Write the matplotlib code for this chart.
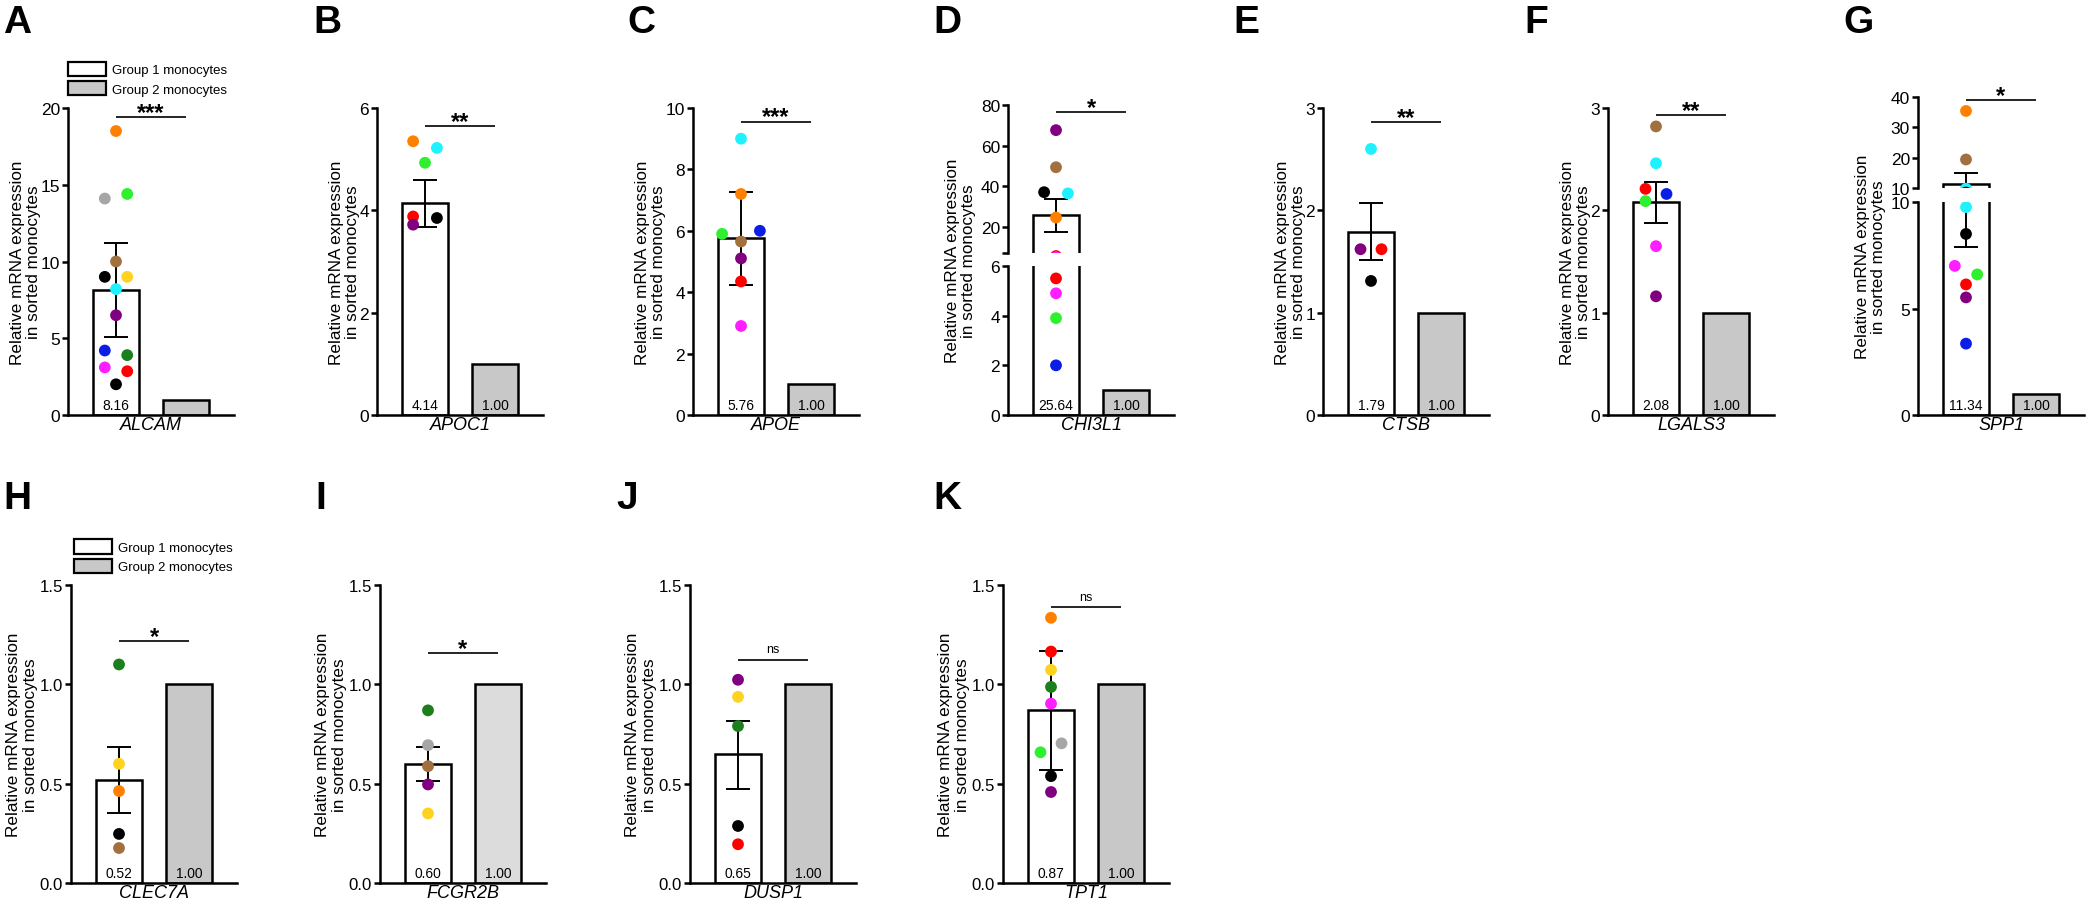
import matplotlib
matplotlib.use('Agg')
import matplotlib.pyplot as plt
from matplotlib.patches import Patch
from matplotlib import font_manager as fm

plt.rcParams['font.family'] = ['Liberation Sans', 'DejaVu Sans']

# ---------------- data ----------------
genes = ['ALCAM', 'APOC1', 'APOE', 'CHI3L1', 'CTSB', 'LGALS3', 'SPP1',
         'CLEC7A', 'FCGR2B', 'DUSP1', 'TPT1']
letters = ['A', 'B', 'C', 'D', 'E', 'F', 'G', 'H', 'I', 'J', 'K']
group_names = ['Group 1 monocytes', 'Group 2 monocytes']
group1_means = [8.16, 4.14, 5.76, 25.64, 1.79, 2.08, 11.34, 0.52, 0.60, 0.65, 0.87]
group2_means = [1.00, 1.00, 1.00, 1.00, 1.00, 1.00, 1.00, 1.00, 1.00, 1.00, 1.00]
err_low = [5.06, 3.67, 4.23, 17.5, 1.51, 1.88, 7.9, 0.352, 0.513, 0.475, 0.57]
err_high = [11.2, 4.60, 7.28, 33.4, 2.07, 2.28, 14.9, 0.685, 0.686, 0.817, 1.167]
sig_labels = ['***', '**', '***', '*', '**', '**', '*', '*', '*', 'ns', 'ns']
sig_heights = [19.4, 5.65, 9.56, 76.5, 2.86, 2.93, 39.0, 1.218, 1.156, 1.125, 1.387]
show_g2_value = [False, True, True, True, True, True, True, True, True, True, True]

alcam_vals = [18.5, 14.1, 14.4, 10.0, 9.0, 9.0, 8.2, 6.5, 4.2, 3.9, 3.1, 2.85, 2.0]
alcam_cols = ['orange', 'gray', 'lime', 'brown', 'black', 'yellow', 'cyan', 'purple',
              'blue', 'dkgreen', 'magenta', 'red', 'black']
alcam_side = [0, -1, 1, 0, -1, 1, 0, 0, -1, 1, -1, 1, 0]

apoc1_vals = [5.35, 5.22, 4.93, 3.88, 3.85, 3.72]
apoc1_cols = ['orange', 'cyan', 'lime', 'red', 'black', 'purple']
apoc1_side = [-1, 1, 0, -1, 1, -1]

apoe_vals = [9.0, 7.2, 5.9, 6.0, 5.65, 5.1, 4.35, 2.9]
apoe_cols = ['cyan', 'orange', 'lime', 'blue', 'brown', 'purple', 'red', 'magenta']
apoe_side = [0, 0, -1, 1, 0, 0, 0, 0]

chi3l1_vals = [67.6, 49.3, 37.0, 36.4, 24.5, 5.5, 4.9, 3.9, 2.0]
chi3l1_cols = ['purple', 'brown', 'black', 'cyan', 'orange', 'red', 'magenta', 'lime', 'blue']
chi3l1_side = [0, 0, -1, 1, 0, 0, 0, 0, 0]

ctsb_vals = [2.60, 1.62, 1.62, 1.31]
ctsb_cols = ['cyan', 'purple', 'red', 'black']
ctsb_side = [0, -1, 1, 0]

lgals3_vals = [2.82, 2.46, 2.21, 2.16, 2.09, 1.65, 1.16]
lgals3_cols = ['brown', 'cyan', 'red', 'blue', 'lime', 'magenta', 'purple']
lgals3_side = [0, 0, -1, 1, -1, 0, 0]

spp1_vals = [35.4, 19.4, 9.76, 8.5, 7.0, 6.6, 6.13, 5.52, 3.35]
spp1_cols = ['orange', 'brown', 'cyan', 'black', 'magenta', 'lime', 'red', 'purple', 'blue']
spp1_side = [0, 0, 0, 0, -1, 1, 0, 0, 0]

clec7a_vals = [1.10, 0.60, 0.463, 0.247, 0.176]
clec7a_cols = ['dkgreen', 'yellow', 'orange', 'black', 'brown']
clec7a_side = [0, 0, 0, 0, 0]

fcgr2b_vals = [0.869, 0.694, 0.588, 0.496, 0.35]
fcgr2b_cols = ['dkgreen', 'gray', 'brown', 'purple', 'yellow']
fcgr2b_side = [0, 0, 0, 0, 0]

dusp1_vals = [1.023, 0.937, 0.79, 0.287, 0.195]
dusp1_cols = ['purple', 'yellow', 'dkgreen', 'black', 'red']
dusp1_side = [0, 0, 0, 0, 0]

tpt1_vals = [1.335, 1.165, 1.073, 0.987, 0.903, 0.703, 0.658, 0.538, 0.458]
tpt1_cols = ['orange', 'red', 'yellow', 'dkgreen', 'magenta', 'gray', 'lime', 'black', 'purple']
tpt1_side = [0, 0, 0, 0, 0, 1, -1, 0, 0]

points = [(alcam_vals, alcam_cols, alcam_side), (apoc1_vals, apoc1_cols, apoc1_side),
          (apoe_vals, apoe_cols, apoe_side), (chi3l1_vals, chi3l1_cols, chi3l1_side),
          (ctsb_vals, ctsb_cols, ctsb_side), (lgals3_vals, lgals3_cols, lgals3_side),
          (spp1_vals, spp1_cols, spp1_side), (clec7a_vals, clec7a_cols, clec7a_side),
          (fcgr2b_vals, fcgr2b_cols, fcgr2b_side), (dusp1_vals, dusp1_cols, dusp1_side),
          (tpt1_vals, tpt1_cols, tpt1_side)]

yticks = [[0, 5, 10, 15, 20], [0, 2, 4, 6], [0, 2, 4, 6, 8, 10], None, [0, 1, 2, 3],
          [0, 1, 2, 3], None, [0, 0.5, 1.0, 1.5], [0, 0.5, 1.0, 1.5], [0, 0.5, 1.0, 1.5],
          [0, 0.5, 1.0, 1.5]]
# broken axes: (lower limits, lower ticks, upper limits, upper ticks, upper labels)
broken = {3: ((0, 6), [0, 2, 4, 6], (7, 80), [7, 20, 40, 60, 80], ['', '20', '40', '60', '80']),
          6: ((0, 10), [0, 5, 10], (10, 40), [10, 20, 30, 40], ['10', '20', '30', '40'])}

# ---------------- styling ----------------
COL = {'orange': '#FF8000', 'gray': '#A6A6A6', 'lime': '#2EF02E', 'brown': '#A26F3E',
       'black': '#000000', 'yellow': '#FFD21F', 'cyan': '#1EF2FF', 'purple': '#800080',
       'blue': '#0A1EE6', 'dkgreen': '#1B7F1B', 'magenta': '#FF1EFF', 'red': '#FF0000'}
G2_FACE = ['#C8C8C8'] * 11
G2_FACE[8] = '#DCDCDC'
JITTER = [0.16, 0.17, 0.27, 0.17, 0.15, 0.15, 0.16, 0.16, 0.16, 0.16, 0.15]


def has_font(name):
    try:
        fm.findfont(fm.FontProperties(family=name), fallback_to_default=False)
        return True
    except Exception:
        return False


if has_font('Liberation Sans Narrow'):
    NARROW = ['Liberation Sans Narrow', 'Liberation Sans']
    NS = 1.0
else:
    NARROW = ['Liberation Sans', 'DejaVu Sans']
    NS = 0.86
REG = ['Liberation Sans', 'DejaVu Sans']

W, H = 2096, 904
fig = plt.figure(figsize=(W / 100, H / 100), dpi=100)
fig.patch.set_facecolor('white')

AX_W = 166
ROW1 = (109, 416)
ROW2 = (586, 884)
col_x = [68, 377, 693, 1008, 1323, 1608, 1918, 71, 380, 690, 1003]
letter_x = [3, 313, 627, 933, 1233, 1524, 1843, 3, 315, 616, 933]
XLIM = (-0.686, 1.686)
BAR_W = 0.66
LW = 1.8


def rect(x, top, bot):
    return [x / W, 1 - bot / H, AX_W / W, (bot - top) / H]


def style(ax, row2, bottom=True):
    for s in ['top', 'right']:
        ax.spines[s].set_visible(False)
    ax.spines['left'].set_linewidth(LW)
    ax.spines['bottom'].set_linewidth(LW)
    if not bottom:
        ax.spines['bottom'].set_visible(False)
    ax.tick_params(axis='y', direction='out', length=4.5, width=LW, pad=1.2,
                   labelsize=(14 * NS if row2 else 12.5))
    if row2:
        for t in ax.get_yticklabels():
            t.set_family(NARROW)
    ax.tick_params(axis='x', length=0, labelbottom=False)
    ax.set_xlim(*XLIM)
    ax.patch.set_visible(False)


def content(ax, i, clip=True):
    ax.bar(0, group1_means[i], width=BAR_W, facecolor='white', edgecolor='black',
           linewidth=LW, zorder=1)
    ax.bar(1, group2_means[i], width=BAR_W, facecolor=G2_FACE[i], edgecolor='black',
           linewidth=LW, zorder=1)
    m = group1_means[i]
    ax.errorbar([0], [m], yerr=[[m - err_low[i]], [err_high[i] - m]], fmt='none',
                ecolor='black', elinewidth=1.4, capsize=8.5, capthick=1.4, zorder=2)
    vals, cols, side = points[i]
    xs = [s * JITTER[i] for s in side]
    ax.scatter(xs, vals, s=72, c=[COL[c] for c in cols], edgecolors='none', zorder=3,
               clip_on=clip)


def value_labels(ax, i):
    row2 = i >= 7
    fam = NARROW if row2 else REG
    fs = 11.5 * NS if row2 else 10
    ax.annotate(f'{group1_means[i]:.2f}', xy=(0, 0), xytext=(0, 2.5),
                textcoords='offset points', ha='center', va='bottom', fontsize=fs, family=fam)
    if show_g2_value[i]:
        ax.annotate(f'{group2_means[i]:.2f}', xy=(1, 0), xytext=(0, 2.5),
                    textcoords='offset points', ha='center', va='bottom', fontsize=fs, family=fam)


def sig(ax, i):
    h = sig_heights[i]
    ax.plot([0, 1], [h, h], color='black', lw=1.2, solid_capstyle='butt', clip_on=False)
    if sig_labels[i] == 'ns':
        ax.annotate('ns', xy=(0.5, h), xytext=(0, 3), textcoords='offset points',
                    ha='center', va='bottom', fontsize=10.5 * NS, family=NARROW)
    else:
        ax.annotate(sig_labels[i], xy=(0.5, h), xytext=(0, -5), textcoords='offset points',
                    ha='center', va='bottom', fontsize=17, fontweight='bold')


YLABEL = 'Relative mRNA expression\nin sorted monocytes'

for i in range(11):
    row2 = i >= 7
    top, bot = ROW2 if row2 else ROW1
    x0 = col_x[i]
    if i in broken:
        lo_lim, lo_ticks, up_lim, up_ticks, up_labels = broken[i]
        if i == 3:
            up_t, up_b, lo_t = 106, 254, 267
        else:
            up_t, up_b, lo_t = 98, 189, 203
        axl = fig.add_axes(rect(x0, lo_t, bot))
        axu = fig.add_axes(rect(x0, up_t, up_b))
        for ax, lim, tk in ((axl, lo_lim, lo_ticks), (axu, up_lim, up_ticks)):
            content(ax, i, clip=True)
            ax.set_ylim(*lim)
            ax.set_yticks(tk)
        axu.set_yticklabels(up_labels)
        style(axl, row2)
        style(axu, row2, bottom=False)
        value_labels(axl, i)
        sig(axu, i)
        axl.set_xlabel(genes[i], fontstyle='italic', fontsize=13, labelpad=1)
        axl.set_ylabel(YLABEL, fontsize=12.3, linespacing=1.12)
        lo_h = bot - lo_t
        axl.yaxis.set_label_coords(-32 / AX_W, ((bot - up_t) / 2) / lo_h)
    else:
        ax = fig.add_axes(rect(x0, top, bot))
        content(ax, i, clip=False)
        ax.set_ylim(0, yticks[i][-1])
        ax.set_yticks(yticks[i])
        if row2:
            ax.set_yticklabels([f'{t:.1f}' for t in yticks[i]])
        style(ax, row2)
        value_labels(ax, i)
        sig(ax, i)
        ax.set_xlabel(genes[i], fontstyle='italic', fontsize=13, labelpad=1)
        ax.set_ylabel(YLABEL, fontsize=12.3, linespacing=1.12, labelpad=(1.5 if row2 else -0.5))
        if i in (0, 7):
            handles = [Patch(facecolor='white', edgecolor='black', linewidth=1.6),
                       Patch(facecolor='#C8C8C8', edgecolor='black', linewidth=1.6)]
            leg = ax.legend(handles, group_names, loc='lower left',
                            bbox_to_anchor=(0.0 if i == 0 else 0.02, 1.04), frameon=False,
                            fontsize=(11 * NS if row2 else 9.5),
                            handlelength=2.9, handleheight=1.3, handletextpad=0.45,
                            labelspacing=0.35, borderpad=0, borderaxespad=0)
            if row2:
                for t in leg.get_texts():
                    t.set_family(NARROW)
    ly = 481 if row2 else 5
    fig.text(letter_x[i] / W, 1 - ly / H, letters[i], fontsize=28, fontweight='bold',
             ha='left', va='top')

fig.savefig('out.png', dpi=100, facecolor='white')
